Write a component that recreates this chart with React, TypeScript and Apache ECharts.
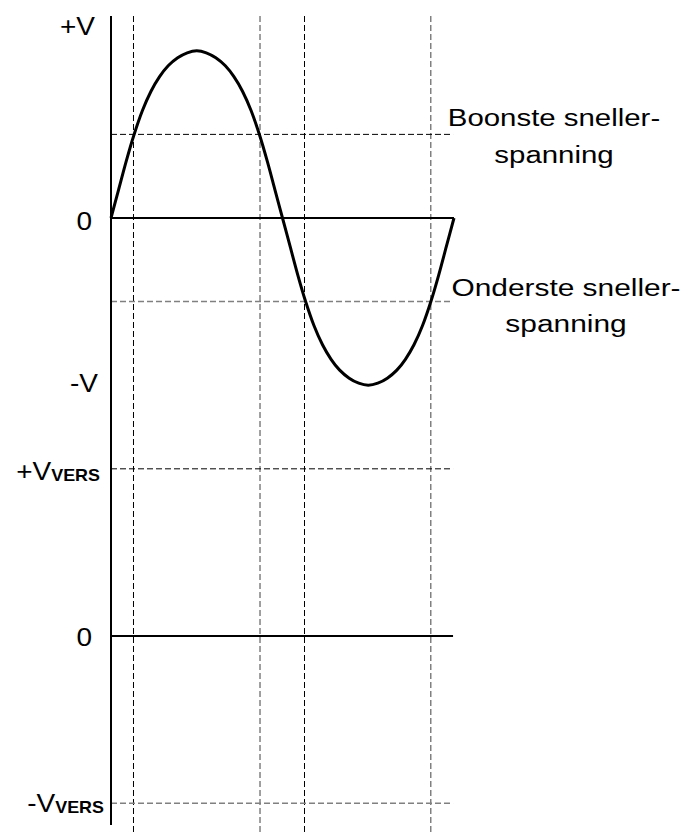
import React, { useEffect, useRef } from "react";
import * as echarts from "echarts";

// Input sine wave (x in degrees, y in units of V)
const waveX = [0, 8, 16, 24, 33, 42, 51, 60, 70, 80, 90, 100, 110, 120, 129, 138, 147, 156, 164, 172, 180, 188, 196, 204, 213, 222, 231, 240, 250, 260, 270, 280, 290, 300, 309, 318, 327, 336, 344, 352, 360];
const waveY = [0, 0.17, 0.34, 0.495, 0.643, 0.758, 0.845, 0.91, 0.958, 0.988, 1.0, 0.988, 0.958, 0.91, 0.845, 0.758, 0.643, 0.495, 0.34, 0.17, 0, -0.17, -0.34, -0.495, -0.643, -0.758, -0.845, -0.91, -0.958, -0.988, -1.0, -0.988, -0.958, -0.91, -0.845, -0.758, -0.643, -0.495, -0.34, -0.17, 0];

// Switching instants (degrees)
const switchOnX = [23.6, 203.1];
const switchOffX = [156.4, 335.6];

// Levels
const upperThreshold = 0.5;
const lowerThreshold = -0.5;
const inputZero = 0;
const outputZero = -2.5;
const outputHigh = -1.5;
const outputLow = -3.5;
const xStart = 0;
const xEnd = 360;
const dashEnd = 359;
const yTop = 1.208;
const yBottom = -3.672;
const axisBottom = -3.63;

const tickLabels = ["+V", "0", "-V", "+V", "0", "-V"];
const subLabels = ["", "", "", "VERS", "", "VERS"];
const noteUpper = "Boonste sneller-\nspanning";
const noteLower = "Onderste sneller-\nspanning";

const FONT = "'Liberation Sans', Arial, Helvetica, sans-serif";

export default function App() {
  const ref = useRef<HTMLDivElement>(null);
  useEffect(() => {
    if (!ref.current) return;
    const chart = echarts.init(ref.current, undefined, { renderer: "svg" });

    const blackDash = { color: "#000", width: 1, type: [6, 3] as any };
    const greyDash = { color: "#808080", width: 1.5, type: [6, 3] as any };
    const solid = { color: "#000", width: 2 };

    const seg = (name: string, pts: number[][], lineStyle: any, z = 2) => ({
      name,
      type: "line",
      data: pts,
      symbol: "none",
      silent: true,
      lineStyle,
      z,
    });

    const series: any[] = [];
    switchOnX.forEach((x, i) =>
      series.push(seg("on" + i, [[x, yTop], [x, yBottom]], blackDash, 1))
    );
    switchOffX.forEach((x, i) =>
      series.push(seg("off" + i, [[x, yTop], [x, yBottom]], greyDash, 1))
    );
    series.push(seg("ut", [[xStart, upperThreshold], [dashEnd, upperThreshold]], blackDash, 1));
    series.push(seg("lt", [[xStart, lowerThreshold], [dashEnd, lowerThreshold]], greyDash, 1));
    series.push(seg("oh", [[xStart, outputHigh], [dashEnd, outputHigh]], blackDash, 1));
    series.push(seg("ol", [[xStart, outputLow], [dashEnd, outputLow]], greyDash, 1));
    series.push(seg("z1", [[xStart, inputZero], [xEnd, inputZero]], solid, 3));
    series.push(seg("z2", [[xStart, outputZero], [dashEnd, outputZero]], solid, 3));
    series.push(seg("axis", [[xStart, yTop], [xStart, axisBottom]], solid, 3));
    series.push({
      name: "wave",
      type: "line",
      data: waveX.map((x, i) => [x, waveY[i]]),
      symbol: "none",
      smooth: 0.3,
      silent: true,
      lineStyle: { color: "#000", width: 3 },
      z: 4,
    });

    const labelPos = [
      [95, 27],
      [92, 222],
      [98, 384],
      [100, 471],
      [92, 638],
      [104, 803],
    ];
    const graphics: any[] = tickLabels.map((t, i) => {
      const sub = subLabels[i];
      const style: any = {
        text: sub ? `{m|${t}}{s|${sub}}` : t,
        fontSize: 25,
        fontFamily: FONT,
        fill: "#000",
        align: "right",
        verticalAlign: "middle",
      };
      if (sub) {
        style.rich = {
          m: { fontSize: 25, fontFamily: FONT, fill: "#000", verticalAlign: "bottom", lineHeight: 26 },
          s: { fontSize: 16, fontWeight: "bold", fontFamily: FONT, fill: "#000", verticalAlign: "bottom", lineHeight: 19 },
        };
      }
      return {
        type: "text",
        x: labelPos[i][0],
        y: labelPos[i][1],
        scaleX: 1.12,
        style,
        z: 10,
      };
    });
    graphics.push({
      type: "text",
      x: 554,
      y: 136,
      scaleX: 1.2,
      style: {
        text: noteUpper,
        fontSize: 24.5,
        fontFamily: FONT,
        fill: "#000",
        align: "center",
        verticalAlign: "middle",
        lineHeight: 37,
      },
      z: 10,
    });
    graphics.push({
      type: "text",
      x: 566,
      y: 305,
      scaleX: 1.22,
      style: {
        text: noteLower,
        fontSize: 24.5,
        fontFamily: FONT,
        fill: "#000",
        align: "center",
        verticalAlign: "middle",
        lineHeight: 36,
      },
      z: 10,
    });

    chart.setOption({
      animation: false,
      backgroundColor: "#fff",
      grid: { left: 111, right: 233, top: 16, bottom: 2 },
      xAxis: { type: "value", min: xStart, max: xEnd, show: false },
      yAxis: { type: "value", min: yBottom, max: yTop, show: false },
      series,
      graphic: graphics,
    });
    return () => chart.dispose();
  }, []);
  return (
    <div
      ref={ref}
      style={{ position: "absolute", left: 0, top: 0, width: 687, height: 834 }}
    />
  );
}
